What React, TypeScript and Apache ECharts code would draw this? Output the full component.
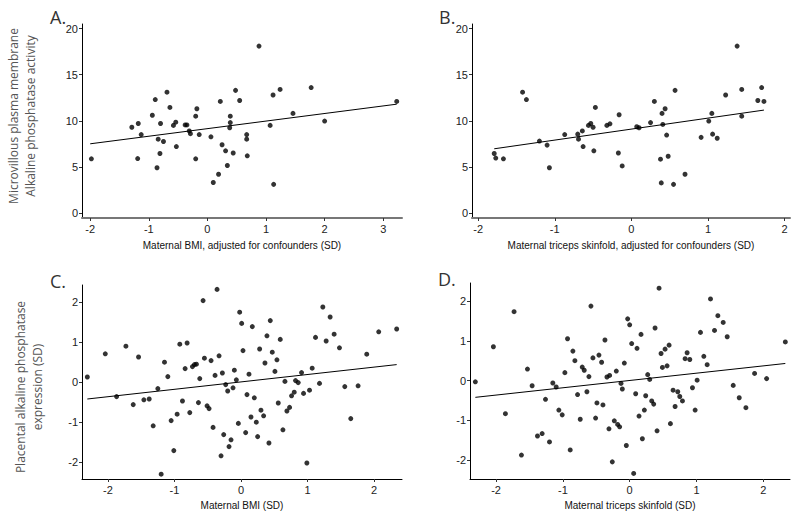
import React, { useEffect, useRef } from "react";
import * as echarts from "echarts";

// Panel A: maternal BMI adjusted (SD) vs MVM alkaline phosphatase activity
const aPoints: number[][] = [
  [-1.98, 5.87], [-1.29, 9.3], [-1.18, 9.7], [-1.13, 8.5], [-1.19, 5.9], [-0.94, 10.6], [-0.89, 12.3],
  [-0.84, 8.0], [-0.8, 9.7], [-0.75, 7.75], [-0.86, 4.9], [-0.81, 6.45], [-0.69, 13.1], [-0.64, 11.45],
  [-0.58, 9.5], [-0.54, 9.85], [-0.53, 7.2], [-0.38, 9.55], [-0.35, 9.55], [-0.31, 8.9], [-0.29, 8.6],
  [-0.2, 10.5], [-0.18, 11.3], [-0.2, 5.87], [-0.14, 8.5], [0.06, 8.26], [0.1, 3.3], [0.19, 4.2],
  [0.22, 12.1], [0.25, 7.4], [0.31, 6.74], [0.34, 5.15], [0.39, 10.5], [0.39, 9.8], [0.38, 9.24],
  [0.44, 6.5], [0.48, 13.3], [0.55, 12.2], [0.67, 8.5], [0.67, 8.0], [0.68, 6.2], [0.88, 18.1],
  [1.07, 9.5], [1.12, 12.8], [1.13, 3.1], [1.24, 13.4], [1.46, 10.8], [1.77, 13.6], [2.0, 9.97], [3.23, 12.1],
];
const aFit: number[][] = [[-2.0, 7.5], [3.23, 11.8]];

// Panel B: maternal triceps skinfold adjusted (SD) vs MVM alkaline phosphatase activity
const bPoints: number[][] = [
  [-1.79, 6.45], [-1.77, 5.95], [-1.67, 5.87], [-1.42, 13.1], [-1.37, 12.3], [-1.2, 7.8], [-1.1, 7.36],
  [-1.07, 4.9], [-0.87, 8.5], [-0.7, 8.55], [-0.69, 8.0], [-0.64, 8.9], [-0.63, 7.2], [-0.56, 9.5],
  [-0.53, 9.7], [-0.5, 9.3], [-0.49, 6.74], [-0.47, 11.45], [-0.32, 9.5], [-0.28, 9.67], [-0.17, 6.5],
  [-0.16, 10.65], [-0.12, 5.1], [0.07, 9.35], [0.1, 9.24], [0.25, 9.8], [0.3, 12.1], [0.38, 5.83],
  [0.39, 3.26], [0.4, 10.8], [0.41, 9.6], [0.44, 11.3], [0.46, 8.45], [0.48, 6.15], [0.55, 3.1],
  [0.57, 13.3], [0.7, 4.2], [0.91, 8.2], [1.01, 9.97], [1.05, 10.8], [1.06, 8.55], [1.12, 8.1],
  [1.23, 12.8], [1.38, 18.1], [1.44, 13.4], [1.44, 10.5], [1.65, 12.2], [1.7, 13.6], [1.73, 12.1],
];
const bFit: number[][] = [[-1.79, 6.96], [1.73, 11.16]];

// Panel C: maternal BMI (SD) vs placental ALP expression (SD)
const cPoints: number[][] = [
  [-2.31, 0.12], [-2.04, 0.7], [-1.87, -0.37], [-1.73, 0.89], [-1.62, -0.57], [-1.54, 0.62], [-1.46, -0.45],
  [-1.38, -0.43], [-1.32, -1.1], [-1.25, -0.17], [-1.2, -2.31], [-1.15, 0.49], [-1.1, 0.13], [-1.05, -0.97],
  [-1.01, -1.72], [-0.96, -0.81], [-0.92, 0.94], [-0.88, -0.48], [-0.84, 0.33], [-0.81, 0.97], [-0.77, -0.77],
  [-0.73, 0.38], [-0.7, 0.43], [-0.67, 0.44], [-0.64, -0.52], [-0.62, 0.08], [-0.57, 2.03], [-0.55, 0.59],
  [-0.51, -0.6], [-0.48, -0.67], [-0.45, 0.53], [-0.42, -1.14], [-0.39, 0.16], [-0.36, 2.31], [-0.33, 0.65],
  [-0.3, -1.85], [-0.28, 0.22], [-0.26, -1.32], [-0.23, -0.07], [-0.2, -0.23], [-0.18, -1.62], [-0.15, -1.45],
  [-0.12, -0.15], [-0.1, 0.29], [-0.07, 0.05], [-0.04, -1.04], [-0.02, 1.74], [0.01, 1.46], [0.03, 0.78],
  [0.07, -1.27], [0.09, -0.32], [0.12, 0.19], [0.15, -0.88], [0.17, 1.38], [0.2, -0.4], [0.23, -1.01],
  [0.25, -1.37], [0.28, 0.82], [0.3, -0.71], [0.34, -0.85], [0.36, 0.47], [0.39, 1.15], [0.42, -1.53],
  [0.44, 1.53], [0.47, 0.74], [0.51, 0.26], [0.54, 0.55], [0.56, -0.53], [0.59, 1.06], [0.63, -1.2],
  [0.66, 0.01], [0.69, -0.73], [0.73, -0.64], [0.76, -0.35], [0.8, -0.26], [0.82, 0.03], [0.86, -0.02],
  [0.91, 0.23], [0.94, -0.29], [0.99, -2.03], [1.03, -0.21], [1.07, 0.34], [1.12, 1.11], [1.18, -0.04],
  [1.23, 1.87], [1.28, 1.02], [1.34, 1.62], [1.4, 1.19], [1.48, 0.85], [1.56, -0.12], [1.65, -0.92],
  [1.76, -0.1], [1.89, 0.69], [2.07, 1.25], [2.34, 1.32],
];
const cFit: number[][] = [[-2.31, -0.43], [2.34, 0.43]];

// Panel D: maternal triceps skinfold (SD) vs placental ALP expression (SD)
const dPoints: number[][] = [
  [-2.31, -0.03], [-2.04, 0.85], [-1.86, -0.83], [-1.73, 1.73], [-1.62, -1.87], [-1.53, 0.29], [-1.46, -0.13],
  [-1.38, -1.39], [-1.31, -1.33], [-1.26, -0.47], [-1.2, -1.54], [-1.15, -0.06], [-1.1, -0.16], [-1.06, -0.74],
  [-1.01, -0.86], [-0.97, 0.2], [-0.93, 1.05], [-0.89, -1.74], [-0.85, 0.74], [-0.82, 0.5], [-0.78, -0.35],
  [-0.74, -0.97], [-0.71, 0.34], [-0.68, 0.26], [-0.64, -0.28], [-0.61, 0.1], [-0.58, 1.87], [-0.55, 0.57],
  [-0.51, -0.94], [-0.49, -0.56], [-0.46, 0.64], [-0.42, 0.46], [-0.4, -0.61], [-0.37, 1.02], [-0.34, 0.09],
  [-0.3, 0.13], [-0.31, -1.21], [-0.26, -2.04], [-0.23, -1.01], [-0.2, 0.24], [-0.18, -1.1], [-0.15, -1.16],
  [-0.13, -0.07], [-0.11, -0.21], [-0.08, 0.44], [-0.05, -1.63], [-0.03, 1.55], [0.0, 1.4], [0.03, 0.93],
  [0.06, -2.33], [0.09, -0.33], [0.11, 0.81], [0.14, -0.89], [0.17, 1.16], [0.19, -1.46], [0.22, -0.74],
  [0.24, -0.38], [0.27, 0.15], [0.3, 0.03], [0.33, -0.51], [0.36, -0.59], [0.38, 1.32], [0.41, -1.26],
  [0.44, 2.32], [0.47, 0.68], [0.49, 0.33], [0.53, 0.79], [0.56, 0.37], [0.59, 0.89], [0.61, -1.08],
  [0.65, -0.24], [0.68, -0.65], [0.72, -0.28], [0.75, -0.4], [0.79, -0.51], [0.83, 0.55], [0.86, 0.7],
  [0.9, 0.53], [0.94, -0.18], [0.98, -0.74], [1.01, 0.01], [1.06, 1.21], [1.11, 0.61], [1.16, 0.4],
  [1.21, 2.05], [1.27, 1.26], [1.32, 1.63], [1.4, 1.46], [1.46, 1.1], [1.55, -0.12], [1.64, -0.43],
  [1.74, -0.68], [1.87, 0.18], [2.05, 0.05], [2.33, 0.97],
];
const dFit: number[][] = [[-2.31, -0.42], [2.33, 0.43]];

const xTicksA = [-2, -1, 0, 1, 2, 3];
const xTicksB = [-2, -1, 0, 1, 2];
const xTicksCD = [-2, -1, 0, 1, 2];
const yTicksAB = [0, 5, 10, 15, 20];
const yTicksCD = [-2, -1, 0, 1, 2];

const xTitles = [
  "Maternal BMI, adjusted for confounders (SD)",
  "Maternal triceps skinfold, adjusted for confounders (SD)",
  "Maternal BMI (SD)",
  "Maternal triceps skinfold (SD)",
];
const panelLetters = ["A.", "B.", "C.", "D."];

export default function App() {
  const ref = useRef<HTMLDivElement>(null);
  useEffect(() => {
    if (!ref.current) return;
    const chart = echarts.init(ref.current, null, { renderer: "svg" });
    const labelFont = { fontFamily: "Liberation Sans", fontSize: 11, color: "#222" };

    const grids = [
      { left: 82, top: 24, width: 320, height: 194 },
      { left: 472, top: 24, width: 318, height: 194 },
      { left: 82, top: 285, width: 320, height: 194 },
      { left: 470, top: 283, width: 320, height: 196 },
    ];
    const xRanges = [[-2.14, 3.32], [-2.08, 2.07], [-2.39, 2.42], [-2.39, 2.4]];
    const yRanges = [[-0.55, 20.5], [-0.55, 20.5], [-2.43, 2.42], [-2.47, 2.45]];
    const xTickSets = [xTicksA, xTicksB, xTicksCD, xTicksCD];
    const yTickSets = [yTicksAB, yTicksAB, yTicksCD, yTicksCD];
    const xLineStyles = [
      { color: "#777", width: 2 },
      { color: "#777", width: 2 },
      { color: "#000", width: 1 },
      { color: "#000", width: 1 },
    ];
    const nameGaps = [22, 22, 21, 21];

    const xAxis = grids.map((_, i) => ({
      type: "value",
      gridIndex: i,
      min: xRanges[i][0],
      max: xRanges[i][1],
      name: xTitles[i],
      nameLocation: "middle",
      nameGap: nameGaps[i],
      nameTextStyle: { fontFamily: "Liberation Sans", fontSize: 10, color: "#111" },
      axisLine: { show: true, onZero: false, lineStyle: xLineStyles[i] },
      axisTick: { show: true, length: 3, customValues: xTickSets[i], lineStyle: { color: "#333" } },
      axisLabel: { ...labelFont, margin: 5, customValues: xTickSets[i] },
      splitLine: { show: false },
    }));
    const yAxis = grids.map((_, i) => ({
      type: "value",
      gridIndex: i,
      min: yRanges[i][0],
      max: yRanges[i][1],
      axisLine: { show: true, onZero: false, lineStyle: { color: "#000", width: 1 } },
      axisTick: { show: true, length: 3, customValues: yTickSets[i], lineStyle: { color: "#333" } },
      axisLabel: { ...labelFont, margin: 4, customValues: yTickSets[i] },
      splitLine: { show: false },
    }));

    const pts = [aPoints, bPoints, cPoints, dPoints];
    const fits = [aFit, bFit, cFit, dFit];
    const series: any[] = [];
    pts.forEach((p, i) => {
      series.push({
        type: "scatter",
        xAxisIndex: i,
        yAxisIndex: i,
        data: p,
        symbol: "circle",
        symbolSize: 5,
        itemStyle: { color: "#000" },
      });
      series.push({
        type: "line",
        xAxisIndex: i,
        yAxisIndex: i,
        data: fits[i],
        symbol: "none",
        lineStyle: { color: "#000", width: 1 },
      });
    });

    const letterPos = [[50, 8], [439, 8], [50, 272], [438, 270]];
    const graphic: any[] = panelLetters.map((t, i) => ({
      type: "text",
      left: letterPos[i][0],
      top: letterPos[i][1],
      style: { text: t, fontFamily: "Open Sans", fontSize: 18, fill: "#333" },
    }));
    graphic.push({
      type: "text",
      x: 22,
      y: 116,
      rotation: Math.PI / 2,
      style: {
        text: "Microvillous plasma membrane\nAlkaline phosphatase activity",
        fontFamily: "Open Sans",
        fontSize: 12,
        lineHeight: 17,
        fill: "#555",
        align: "center",
        verticalAlign: "middle",
      },
    });
    graphic.push({
      type: "text",
      x: 29,
      y: 387,
      rotation: Math.PI / 2,
      style: {
        text: "Placental alkaline phosphatase\nexpression (SD)",
        fontFamily: "Open Sans",
        fontSize: 12,
        lineHeight: 17,
        fill: "#555",
        align: "center",
        verticalAlign: "middle",
      },
    });

    chart.setOption({
      animation: false,
      backgroundColor: "#fff",
      grid: grids,
      xAxis,
      yAxis,
      series,
      graphic,
    });
    return () => chart.dispose();
  }, []);
  return <div ref={ref} style={{ width: 800, height: 521, position: "absolute", left: 0, top: 0 }} />;
}
